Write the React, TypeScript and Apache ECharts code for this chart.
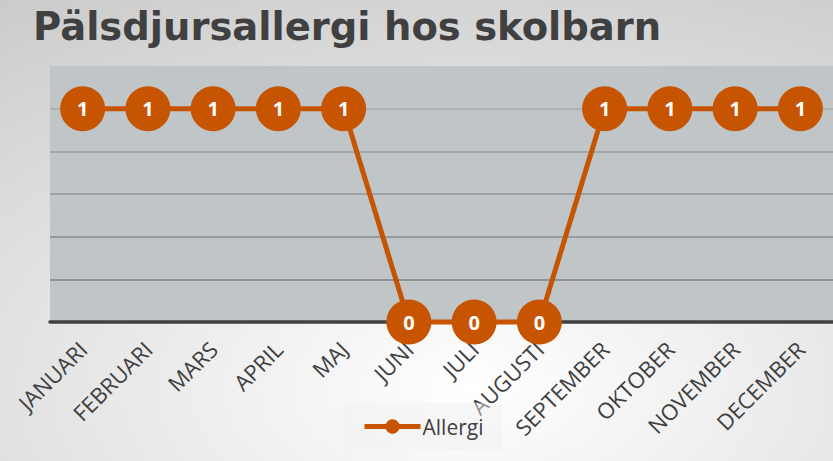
import React, { useEffect, useRef } from "react";
import * as echarts from "echarts";

const titleText = "Pälsdjursallergi hos skolbarn";
const months = [
  "JANUARI", "FEBRUARI", "MARS", "APRIL", "MAJ", "JUNI",
  "JULI", "AUGUSTI", "SEPTEMBER", "OKTOBER", "NOVEMBER", "DECEMBER",
];
const seriesName = "Allergi";
const allergiValues = [1, 1, 1, 1, 1, 0, 0, 0, 1, 1, 1, 1];

const ORANGE = "#c75400";
const TEXT = "#404040";

export default function App() {
  const ref = useRef<HTMLDivElement>(null);
  useEffect(() => {
    document.body.style.margin = "0";
    if (!ref.current) return;
    const chart = echarts.init(ref.current, null, { renderer: "svg" });
    chart.setOption({
      animation: false,
      backgroundColor: {
        type: "radial",
        x: 0.57,
        y: 0.84,
        r: 1.3,
        colorStops: [
          { offset: 0, color: "#ffffff" },
          { offset: 1, color: "#bcbcbc" },
        ],
      },
      title: {
        text: titleText,
        left: 28,
        top: 2,
        textStyle: {
          fontFamily: "DejaVu Sans",
          fontWeight: "bold",
          fontSize: 38.5,
          color: TEXT,
        },
      },
      legend: {
        data: [seriesName],
        left: 343,
        top: 403,
        padding: [13, 19, 13, 19],
        itemWidth: 56,
        itemHeight: 18,
        itemGap: 4,
        lineStyle: { width: 5 },
        backgroundColor: "rgba(240,240,240,0.45)",
        textStyle: { fontFamily: "Open Sans", fontSize: 21, color: TEXT, padding: [0, 0, 0, -3] },
      },
      grid: {
        left: 50,
        top: 66,
        width: 789,
        height: 256,
        show: true,
        backgroundColor: "#c0c5c8",
        borderWidth: 0,
        containLabel: false,
      },
      xAxis: {
        type: "category",
        data: months,
        boundaryGap: true,
        axisLine: { show: true, lineStyle: { color: TEXT, width: 3.5 } },
        axisTick: { show: false },
        axisLabel: {
          rotate: 45,
          margin: 23,
          interval: 0,
          fontFamily: "Open Sans",
          fontSize: 22,
          color: TEXT,
        },
        z: 1,
      },
      yAxis: {
        type: "value",
        min: 0,
        max: 1.2,
        interval: 0.2,
        axisLabel: { show: false },
        axisLine: { show: false },
        axisTick: { show: false },
        splitLine: {
          show: true,
          lineStyle: {
            color: ["transparent", "#7e8285", "#878b8e", "#909497", "#9a9ea1", "#a6aaad", "transparent"],
            width: 1.5,
          },
        },
      },
      series: [
        {
          name: seriesName,
          type: "line",
          data: allergiValues,
          symbol: "circle",
          symbolSize: 45,
          clip: false,
          z: 5,
          lineStyle: { color: ORANGE, width: 5 },
          itemStyle: { color: ORANGE },
          label: {
            show: true,
            position: "inside",
            color: "#ffffff",
            fontFamily: "Open Sans",
            fontWeight: "bold",
            fontSize: 20,
          },
        },
      ],
    });
    return () => chart.dispose();
  }, []);
  return (
    <div
      ref={ref}
      style={{ position: "absolute", left: 0, top: 0, width: 833, height: 461 }}
    />
  );
}
